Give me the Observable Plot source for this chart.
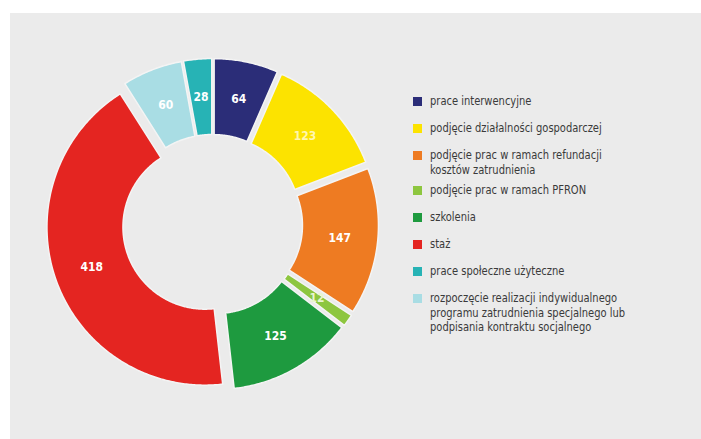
<!DOCTYPE html>
<html>
<head>
<meta charset="utf-8">
<script src="https://cdn.jsdelivr.net/npm/d3@7"></script>
<script src="https://cdn.jsdelivr.net/npm/@observablehq/plot@0.6"></script>
<style>
  html, body { margin: 0; padding: 0; background: #ffffff; }
  #page { position: relative; width: 701px; height: 439px; overflow: hidden; }
  #bg { position: absolute; left: 10px; top: 13px; right: 0; bottom: 0; background: #ebebeb; }
  #chart { position: absolute; left: 0; top: 0; }
  #legend { position: absolute; left: 0; top: 0; width: 701px; height: 439px;
    font-family: "Liberation Sans Narrow", "DejaVu Sans Condensed", "Arial Narrow", sans-serif;
    font-size: 12px; color: #3a3a3a; }
  .item { position: absolute; display: flex; align-items: flex-start; }
  .sw { width: 9px; height: 9px; margin-top: 3px; margin-right: 8px; flex: none; }
  .lab { line-height: 14.5px; white-space: pre; transform: scaleX(0.92); transform-origin: left top; }
</style>
</head>
<body>
<div id="page">
  <div id="bg"></div>
  <div id="chart"></div>
  <div id="legend"></div>
</div>
<script>
// ---- data ----
const categories = [
  "prace interwencyjne",
  "podjęcie działalności gospodarczej",
  "podjęcie prac w ramach refundacji\nkosztów zatrudnienia",
  "podjęcie prac w ramach PFRON",
  "szkolenia",
  "staż",
  "prace społeczne użyteczne",
  "rozpoczęcie realizacji indywidualnego\nprogramu zatrudnienia specjalnego lub\npodpisania kontraktu socjalnego"
];
const values = [64, 123, 147, 12, 125, 418, 28, 60];
const colors = ["#2b2d78", "#fce300", "#ee7b22", "#8dc63f", "#1e9a3f", "#e42521", "#27b3b5", "#a9dde4"];
const labelColors = ["#ffffff", "#fff6b0", "#ffffff", "#e8f5d0", "#ffffff", "#ffffff", "#ffffff", "#ffffff"];
// clockwise order of the slices around the ring (indices into categories)
const sliceOrder = [0, 1, 2, 3, 4, 5, 7, 6];

// ---- layout constants ----
const W = 701, H = 439;
const CX = 212, CY = 224, R0 = 82, R1 = 158, EXPLODE = 8;

const pie = d3.pie().sort(null).value(d => d.value);
const rows = sliceOrder.map(i => ({cat: categories[i], value: values[i], idx: i}));
const arcs = pie(rows);

const polys = [];
const labels = [];
arcs.forEach(a => {
  const mid = (a.startAngle + a.endAngle) / 2;
  const ox = EXPLODE * Math.sin(mid), oy = -EXPLODE * Math.cos(mid);
  const n = Math.max(2, Math.ceil((a.endAngle - a.startAngle) / 0.01));
  const pts = [];
  for (let k = 0; k <= n; k++) {
    const t = a.startAngle + (a.endAngle - a.startAngle) * k / n;
    pts.push({cat: a.data.cat, x: CX + ox + R1 * Math.sin(t), y: CY + oy - R1 * Math.cos(t)});
  }
  for (let k = n; k >= 0; k--) {
    const t = a.startAngle + (a.endAngle - a.startAngle) * k / n;
    pts.push({cat: a.data.cat, x: CX + ox + R0 * Math.sin(t), y: CY + oy - R0 * Math.cos(t)});
  }
  polys.push(...pts);
  const rm = (R0 + R1) / 2;
  labels.push({cat: a.data.cat, value: a.data.value, idx: a.data.idx,
    x: CX + ox + rm * Math.sin(mid), y: CY + oy - rm * Math.cos(mid)});
});

const chart = Plot.plot({
  width: W, height: H,
  margin: 0,
  style: {background: "transparent", overflow: "visible"},
  x: {domain: [0, W], range: [0, W], axis: null},
  y: {domain: [0, H], range: [0, H], axis: null},
  color: {domain: categories, range: colors},
  marks: [
    Plot.line(polys, {x: "x", y: "y", z: "cat", fill: "cat", stroke: "#f4f4f4", strokeWidth: 1.5, curve: "linear-closed"}),
    Plot.text(labels, {x: "x", y: "y", text: d => String(d.value), fill: d => labelColors[d.idx],
      fontSize: 12, fontWeight: "bold",
      fontFamily: "'Liberation Sans Narrow', 'DejaVu Sans Condensed', sans-serif"})
  ]
});
document.getElementById("chart").appendChild(chart);

// ---- legend ----
const legend = document.getElementById("legend");
let extra = 0;
categories.forEach((c, i) => {
  const lines = c.split("\n").length;
  const cy = 101 + 27 * i + 8 * extra;
  const item = document.createElement("div");
  item.className = "item";
  item.style.left = "413px";
  item.style.top = (cy - 7) + "px";
  const sw = document.createElement("div");
  sw.className = "sw";
  sw.style.background = colors[i];
  const lab = document.createElement("div");
  lab.className = "lab";
  lab.textContent = c;
  item.appendChild(sw); item.appendChild(lab);
  legend.appendChild(item);
  extra += lines - 1;
});
</script>
</body>
</html>
